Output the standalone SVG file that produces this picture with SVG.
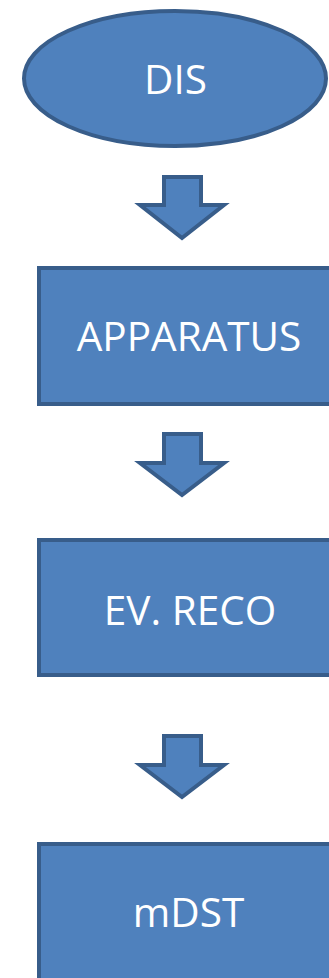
<svg xmlns="http://www.w3.org/2000/svg" width="329" height="978" viewBox="0 0 329 978">
<style>
.shape{fill:#4F81BD;stroke:#385D8A;stroke-width:4}
.arrow{fill:#4F81BD;stroke:#385D8A;stroke-width:4;stroke-linejoin:miter}
.lbl{font-family:"Open Sans","Liberation Sans",sans-serif;font-size:40.5px;fill:#FFFFFF;text-anchor:middle}
</style>
<rect width="329" height="978" fill="#FFFFFF"/>
<g id="dis">
<ellipse class="shape" cx="175" cy="78.5" rx="151" ry="67.5"/>
<text class="lbl" x="175.5" y="94">DIS</text>
</g>
<g id="apparatus">
<rect class="shape" x="39" y="268" width="300" height="136"/>
<text class="lbl" x="189" y="351">APPARATUS</text>
</g>
<g id="evreco">
<rect class="shape" x="39" y="540" width="300" height="135"/>
<text class="lbl" x="190" y="625">EV. RECO</text>
</g>
<g id="mdst">
<rect class="shape" x="39" y="844" width="300" height="140"/>
<text class="lbl" x="188.5" y="927">mDST</text>
</g>
<g id="connectors">
<path class="arrow" d="M164,177 H201 V205 H224 L182,238 L140,205 H164 Z"/>
<path class="arrow" d="M164,434 H201 V463 H224 L182,495 L140,463 H164 Z"/>
<path class="arrow" d="M164,736 H201 V765 H224 L182,797 L140,765 H164 Z"/>
</g>
</svg>
